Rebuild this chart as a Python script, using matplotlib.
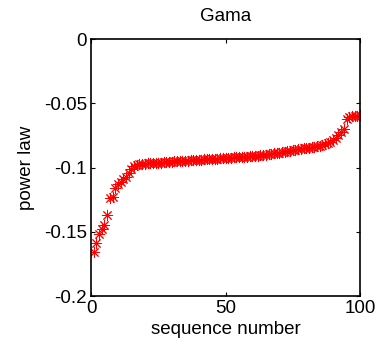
import numpy as np
import matplotlib.pyplot as plt

plt.rcParams['font.family'] = ['Liberation Sans', 'DejaVu Sans']

# valores (ordenados)
seq = np.arange(1, 101)
power_law = [
    -0.166, -0.159, -0.152, -0.148, -0.145, -0.137, -0.124, -0.123, -0.116, -0.113,
    -0.111, -0.109, -0.107, -0.104, -0.101, -0.099, -0.098, -0.097, -0.0972, -0.0970,
    -0.0968, -0.0967, -0.0966, -0.0965, -0.0963, -0.0962, -0.0960, -0.0958, -0.0956, -0.0955,
    -0.0953, -0.0952, -0.0950, -0.0949, -0.0947, -0.0946, -0.0945, -0.0943, -0.0942, -0.0940,
    -0.0939, -0.0937, -0.0936, -0.0935, -0.0933, -0.0932, -0.0930, -0.0929, -0.0928, -0.0926,
    -0.0925, -0.0924, -0.0922, -0.0921, -0.0920, -0.0918, -0.0917, -0.0915, -0.0913, -0.0911,
    -0.0909, -0.0907, -0.0904, -0.0902, -0.0899, -0.0896, -0.0893, -0.0890, -0.0887, -0.0884,
    -0.0880, -0.0877, -0.0873, -0.0870, -0.0866, -0.0862, -0.0859, -0.0856, -0.0852, -0.0849,
    -0.0845, -0.0842, -0.0838, -0.0835, -0.0831, -0.0826, -0.0818, -0.0810, -0.0798, -0.0785,
    -0.0770, -0.0745, -0.0725, -0.0700, -0.0620, -0.0605, -0.0600, -0.0598, -0.0596, -0.0594,
]
xticks = [0, 50, 100]
yticks = [-0.2, -0.15, -0.1, -0.05, 0]
yticklabels = ['-0.2', '-0.15', '-0.1', '-0.05', '0']

fig = plt.figure(figsize=(3.8, 3.48), dpi=100)
ax = fig.add_axes([0.2395, 0.1494, 0.7079, 0.7385])

ax.plot(seq, power_law, linestyle='none', marker=(8, 2, 0), markersize=8,
        color='red', markeredgewidth=0.7)

ax.set_xlim(0, 100)
ax.set_ylim(-0.2, 0)
ax.set_xticks(xticks)
ax.set_xticklabels([str(t) for t in xticks])
ax.set_yticks(yticks)
ax.set_yticklabels(yticklabels)
ax.tick_params(direction='in', top=True, right=True, length=3, labelsize=13.5, width=0.8, pad=3)
for s in ax.spines.values():
    s.set_linewidth(1.2)

ax.set_xlabel('sequence number', fontsize=13.5, labelpad=3)
ax.set_ylabel('power law', fontsize=13.5, labelpad=6)
ax.set_title('Gama', fontsize=13.5, pad=13)

plt.savefig('out.png', dpi=100)
plt.close()
